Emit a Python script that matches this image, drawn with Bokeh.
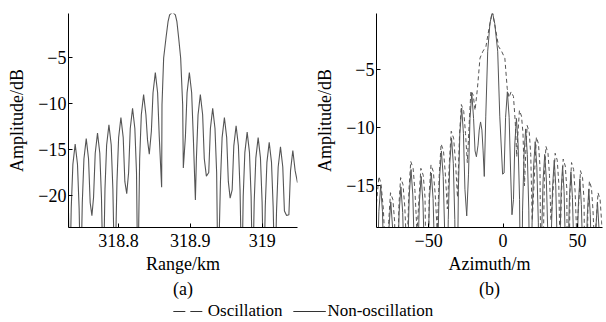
from bokeh.plotting import figure
from bokeh.models import Range1d, FixedTicker, Title, Legend, LegendItem
from bokeh.layouts import row, column
from bokeh.embed import file_html
from bokeh.resources import INLINE

FONT = "Liberation Serif"
LINE = "#555555"

# ---------------- data: panel (a) range profile ----------------
range_km = [318.7303, 318.7320,
            318.7341, 318.7364, 318.7396, 318.7428, 318.7451, 318.7473,
            318.7495, 318.7518, 318.7550, 318.7582, 318.7605, 318.7629,
            318.7652, 318.7675, 318.7707, 318.7739, 318.7762, 318.7787,
            318.7811, 318.7834, 318.7866, 318.7898, 318.7921, 318.7947,
            318.7978, 318.8001, 318.8033, 318.8065, 318.8088, 318.8114,
            318.8140, 318.8163, 318.8195, 318.8227, 318.8250, 318.8268,
            318.8294, 318.8317, 318.8349, 318.8381, 318.8404, 318.8428,
            318.8457, 318.8480, 318.8512, 318.8544, 318.8567, 318.8600,
            318.8605, 318.8628, 318.8661, 318.8690, 318.8711, 318.8752,
            318.8791, 318.8812, 318.8837, 318.8865, 318.8893, 318.8902,
            318.8931, 318.8954, 318.8986, 318.9018, 318.9041, 318.9070,
            318.9084, 318.9107, 318.9139, 318.9171, 318.9194, 318.9223,
            318.9256, 318.9279, 318.9311, 318.9343, 318.9366, 318.9385,
            318.9419, 318.9442, 318.9474, 318.9506, 318.9529, 318.9554,
            318.9582, 318.9605, 318.9637, 318.9669, 318.9692, 318.9716,
            318.9736, 318.9759, 318.9791, 318.9823, 318.9846, 318.9867,
            318.9889, 318.9912, 318.9944, 318.9976, 318.9999, 319.0022,
            319.0043, 319.0066, 319.0098, 319.0130, 319.0153, 319.0177,
            319.0200, 319.0223, 319.0255, 319.0287, 319.0310, 319.0340,
            319.0372, 319.0395, 319.0427, 319.0459, 319.0492]
range_db = [-21.9, -30,
            -21.4, -16.6, -14.4, -16.6, -21.4, -30,
            -20.8, -16.0, -13.8, -16.0, -20.8, -22.2,
            -20.2, -15.4, -13.2, -15.4, -20.2, -30,
            -19.3, -14.5, -12.3, -14.5, -19.3, -30,
            -18.5, -13.7, -11.5, -13.7, -18.5, -19.8,
            -17.5, -12.7, -10.5, -12.7, -17.5, -30,
            -16.0, -11.2, -9.0, -11.2, -14.0, -15.5,
            -13.0, -8.8, -6.6, -8.8, -13.6, -19.1,
            -10.1, -5.0, -2.8, -1.0, -0.3, 0.0,
            -0.3, -1.0, -2.8, -5.0, -10.1, -17.0,
            -13.6, -8.8, -6.6, -8.8, -13.6, -20.5,
            -16.0, -11.2, -9.0, -11.2, -16.0, -17.9,
            -17.5, -12.7, -10.5, -12.7, -17.5, -30,
            -18.5, -13.7, -11.5, -13.7, -18.5, -20.3,
            -19.4, -14.6, -12.4, -14.6, -19.4, -30,
            -20.1, -15.3, -13.1, -15.3, -20.1, -30,
            -20.7, -15.9, -13.7, -15.9, -20.7, -30,
            -21.2, -16.4, -14.2, -16.4, -21.2, -30,
            -21.7, -16.9, -14.7, -16.9, -21.7, -22.2,
            -22.1, -17.3, -15.1, -17.3, -18.6]

range_ticks = [318.8, 318.9, 319.0]
range_tick_labels = ["318.8", "318.9", "319"]
range_db_ticks = [-5, -10, -15, -20]

# ---------------- data: panel (b) azimuth profile ----------------
az_solid_m = [-85.0,
              -84.4, -83.4, -82.2, -81.0, -80.0, -78.8,
              -77.6, -76.6, -75.4, -74.2, -73.2, -72.0,
              -70.8, -69.8, -68.6, -67.4, -66.4, -65.2,
              -64.0, -63.0, -61.8, -60.6, -59.6, -58.4,
              -57.2, -56.2, -55.0, -53.8, -52.8, -51.6,
              -50.4, -49.4, -48.2, -47.0, -46.0, -44.8,
              -43.6, -42.6, -41.4, -40.2, -39.2, -38.0,
              -36.8, -35.8, -34.6, -33.4, -32.4, -31.2,
              -30.0, -29.0, -27.8, -26.6, -25.6, -24.4,
              -23.2, -22.2, -21.0, -19.8, -18.8, -17.9,
              -16.8, -16.0, -15.1, -14.2, -13.4, -12.6,
              -11.6, -10.3, -8.8, -7.2, -5.6, -3.6, -2.2, -0.3,
              0.7, 1.7, 2.9, 4.1, 5.1, 6.0,
              7.0, 7.9, 9.0, 10.1, 11.1, 12.1,
              13.1, 14.1, 15.2, 16.3, 17.3, 18.4,
              19.5, 20.5, 21.6, 22.7, 23.7, 24.8,
              25.9, 26.9, 28.0, 29.1, 30.1, 31.2,
              32.3, 33.3, 34.4, 35.4, 36.3, 37.2,
              38.2, 39.0, 40.0, 41.0, 41.9, 42.8,
              43.7, 44.6, 45.6, 46.6, 47.6, 48.6,
              49.6, 50.6, 51.6, 52.6, 53.6, 54.6,
              55.6, 56.6, 57.6, 58.6, 59.6, 60.5,
              61.5, 62.4, 63.4, 64.4, 65.3, 66.0, 66.8]
az_solid_db = [-19.5,
               -22.0, -17.2, -15.0, -17.2, -22.0, -30,
               -23.4, -18.6, -16.4, -18.6, -23.4, -30,
               -22.1, -17.3, -15.1, -17.3, -22.1, -30,
               -20.6, -15.8, -13.6, -15.8, -20.6, -30,
               -21.2, -16.4, -14.2, -16.4, -21.2, -30,
               -20.9, -16.1, -13.9, -16.1, -20.9, -30,
               -19.0, -14.2, -12.0, -14.2, -19.0, -30,
               -17.9, -13.1, -10.9, -13.1, -17.9, -30,
               -15.3, -10.5, -8.3, -10.5, -15.3, -17.6,
               -14.0, -9.2, -7.0, -9.2, -12.0, -12.5,
               -11.5, -10.2, -9.5, -10.2, -12.0, -14.2,
               -9.0, -3.4, -1.0, 0.0, -1.0, -3.4, -9.0, -14.0,
               -13.9, -9.1, -6.9, -9.1, -13.9, -17.5,
               -16.2, -11.4, -9.2, -11.4, -16.2, -30,
               -17.1, -12.3, -10.1, -12.3, -17.1, -30,
               -18.2, -13.4, -11.2, -13.4, -18.2, -30,
               -19.3, -14.5, -12.3, -14.5, -19.3, -30,
               -19.8, -15.0, -12.8, -15.0, -19.8, -30,
               -20.3, -15.5, -13.3, -15.5, -20.3, -30,
               -20.8, -16.0, -13.8, -16.0, -20.8, -30,
               -21.4, -16.6, -14.4, -16.6, -21.4, -30,
               -22.3, -17.5, -15.3, -17.5, -22.3, -30,
               -23.4, -18.6, -16.4, -18.6, -23.4, -30, -22.0]

az_dash_m = [-85.0, -83.4, -82.0, -80.4, -78.6,
             -76.8, -75.6, -74.0, -72.8, -71.4,
             -70.0, -68.8, -67.2, -66.0, -64.6,
             -63.2, -62.0, -60.4, -59.2, -57.8,
             -56.4, -55.2, -53.6, -52.4, -51.0,
             -49.6, -48.4, -46.8, -45.6, -44.2,
             -42.8, -41.6, -40.0, -38.8, -37.4,
             -36.0, -34.8, -33.2, -32.0, -30.6,
             -29.2, -28.0, -26.4, -25.2, -24.0,
             -22.6, -21.6, -20.0, -18.8,
             -17.2, -15.5, -13.5, -11.5, -9.5, -7.2, -5.0, -3.0, -1.0, 1.2, 2.8,
             4.0, 5.4, 7.0, 8.2, 9.2,
             10.0, 11.0, 12.4, 13.4, 14.4,
             15.2, 16.2, 17.6, 18.6, 19.6,
             21.4, 22.4, 23.8, 24.8, 25.8,
             27.8, 28.8, 30.2, 31.2, 32.2,
             34.0, 35.0, 36.4, 37.4, 38.2,
             39.4, 40.4, 41.8, 42.8, 43.6,
             45.0, 46.0, 47.4, 48.4, 49.4,
             51.0, 52.0, 53.4, 54.4, 55.4,
             57.0, 58.0, 59.4, 60.4, 61.4,
             62.6, 63.8, 65.2, 66.2, 66.8]
az_dash_db = [-16.5, -14.2, -14.8, -17.0, -22.0,
              -18.1, -15.6, -16.2, -18.1, -30,
              -16.8, -14.3, -14.9, -16.8, -21.0,
              -15.4, -12.9, -13.5, -15.4, -19.0,
              -16.0, -13.5, -14.1, -16.0, -30,
              -15.7, -13.2, -13.8, -15.7, -19.0,
              -13.9, -11.4, -12.0, -13.9, -17.0,
              -12.8, -10.3, -10.9, -12.8, -16.0,
              -10.5, -8.0, -8.6, -10.5, -13.0,
              -9.3, -6.8, -7.2, -8.5,
              -6.6, -4.0, -3.4, -3.0, -1.5, 0.0, -1.5, -3.0, -3.4, -4.0, -6.6,
              -7.4, -6.9, -7.3, -9.5, -12.5,
              -10.5, -8.5, -9.0, -10.5, -15.0,
              -12.3, -9.8, -10.4, -12.3, -18.0,
              -13.3, -10.8, -11.4, -13.3, -30,
              -14.1, -11.6, -12.2, -14.1, -18.0,
              -14.7, -12.2, -12.8, -14.7, -20.0,
              -15.2, -12.7, -13.3, -15.2, -30,
              -15.5, -13.0, -13.6, -15.5, -19.0,
              -16.2, -13.7, -14.3, -16.2, -30,
              -17.1, -14.6, -15.2, -17.1, -20.0,
              -18.1, -15.6, -16.2, -18.1, -19.0]

az_ticks = [-50, 0, 50]
az_tick_labels = ["\u221250", "0", "50"]
az_db_ticks = [-5, -10, -15]

legend_labels = ["Oscillation", "Non-oscillation"]


def style(p, xticks, xlabels, yticks, xlabel, tag):
    p.xaxis.ticker = FixedTicker(ticks=xticks)
    p.xaxis.major_label_overrides = {t: l for t, l in zip(xticks, xlabels)}
    p.yaxis.ticker = FixedTicker(ticks=yticks)
    p.yaxis.major_label_overrides = {t: "\u2212" + str(abs(t)) for t in yticks}
    for ax in (p.xaxis[0], p.yaxis[0]):
        ax.major_tick_in = 4
        ax.major_tick_out = 0
        ax.minor_tick_line_color = None
        ax.axis_line_color = "black"
        ax.major_tick_line_color = "black"
        ax.major_label_text_font = FONT
        ax.major_label_text_font_size = "18px"
        ax.major_label_text_color = "black"
        ax.axis_label_text_font = FONT
        ax.axis_label_text_font_size = "18px"
        ax.axis_label_text_font_style = "normal"
        ax.axis_label_text_color = "black"
    p.xaxis.major_label_standoff = 6
    p.yaxis.major_label_standoff = 2
    p.xaxis.axis_label = xlabel
    p.yaxis.axis_label = "Amplitude/dB"
    p.xaxis.axis_label_standoff = 4
    p.yaxis.axis_label_standoff = 8
    p.xgrid.visible = False
    p.ygrid.visible = False
    p.outline_line_color = None
    p.add_layout(Title(text=tag, align="center", text_font=FONT, text_font_size="18px",
                       text_font_style="normal", text_color="black", standoff=0), "below")


pa = figure(width=303, height=300, output_backend="svg", toolbar_location=None,
            x_range=Range1d(318.7303, 319.0492), y_range=Range1d(-23.5, -0.15),
            min_border_left=68, min_border_right=6, min_border_top=13, min_border_bottom=73)
pa.line(range_km, range_db, line_color=LINE, line_width=1.1)
style(pa, range_ticks, range_tick_labels, range_db_ticks, "Range/km", "(a)")

pb = figure(width=303, height=300, output_backend="svg", toolbar_location=None,
            x_range=Range1d(-85.0, 66.8), y_range=Range1d(-18.6, -0.15),
            min_border_left=73, min_border_right=4, min_border_top=13, min_border_bottom=73)
pb.line(az_dash_m, az_dash_db, line_color=LINE, line_width=1.0, line_dash="4 3")
pb.line(az_solid_m, az_solid_db, line_color=LINE, line_width=1.0)
style(pb, az_ticks, az_tick_labels, az_db_ticks, "Azimuth/m", "(b)")

pl = figure(width=606, height=22, output_backend="svg", toolbar_location=None,
            x_range=Range1d(0, 1), y_range=Range1d(0, 1), x_axis_type=None, y_axis_type=None,
            min_border=0)
pl.outline_line_color = None
pl.xgrid.visible = False
pl.ygrid.visible = False
# renderers whose data lie outside the visible range: only their legend samples show
r_d = pl.line([5, 6], [5, 5], line_color="#333333", line_width=1.2, line_dash="12 5")
r_s = pl.line([5, 6], [5, 5], line_color="#333333", line_width=1.0)
leg = Legend(items=[LegendItem(label=legend_labels[0], renderers=[r_d]),
                    LegendItem(label=legend_labels[1], renderers=[r_s])],
             orientation="horizontal", location="center",
             label_text_font=FONT, label_text_font_size="17px", label_text_color="black",
             glyph_width=33, glyph_height=14, label_standoff=2, spacing=10,
             padding=0, margin=0, border_line_color=None, background_fill_alpha=0)
pl.add_layout(leg, "center")

layout = column(row(pa, pb), pl)
open("out.html", "w").write(file_html(layout, INLINE))
